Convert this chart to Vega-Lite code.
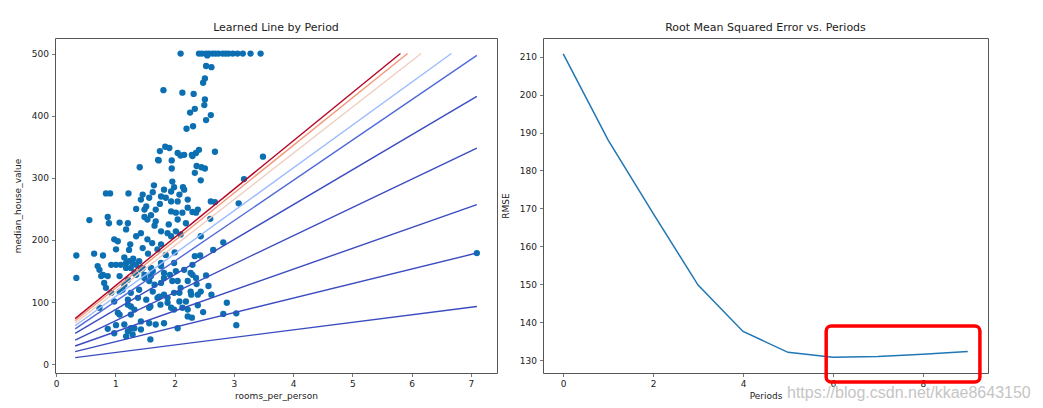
{
  "$schema": "https://vega.github.io/schema/vega-lite/v6.json",
  "padding": {"left": 12, "top": 21, "right": 0, "bottom": 0},
  "spacing": 2,
  "background": "white",
  "config": {
    "view": {"stroke": "#555", "strokeWidth": 1},
    "font": "DejaVu Sans",
    "title": {"font": "DejaVu Sans", "fontSize": 11, "fontWeight": "normal", "color": "#222", "offset": 5},
    "axis": {"grid": false, "domain": false, "tickColor": "#555", "tickSize": 3.5, "tickWidth": 0.8, "labelFont": "DejaVu Sans", "labelFontSize": 9, "labelColor": "#222", "titleFont": "DejaVu Sans", "titleFontSize": 9, "titleFontWeight": "normal", "titleColor": "#222", "labelPadding": 3},
    "axisX": {"titlePadding": 3},
    "axisY": {"titlePadding": 9}
  },
  "datasets": {
    "pts": [
      {"r":2.10,"v":500},{"r":2.41,"v":500},{"r":2.46,"v":500},{"r":2.53,"v":500},{"r":2.58,"v":500},{"r":2.64,"v":500},{"r":2.69,"v":500},{"r":2.74,"v":500},{"r":2.81,"v":500},{"r":2.86,"v":500},{"r":2.91,"v":500},{"r":2.98,"v":500},{"r":3.06,"v":500},{"r":3.15,"v":500},{"r":3.28,"v":500},{"r":3.45,"v":500},{"r":2.55,"v":497},
      {"r":1.81,"v":441},{"r":2.13,"v":437},{"r":2.32,"v":435},{"r":2.53,"v":480},{"r":2.62,"v":478},{"r":2.51,"v":460},{"r":2.48,"v":453},{"r":2.51,"v":426},{"r":2.50,"v":417},{"r":2.34,"v":411},{"r":2.26,"v":405},{"r":2.61,"v":401},{"r":2.53,"v":393},{"r":2.20,"v":379},{"r":2.31,"v":383},{"r":2.41,"v":345},{"r":2.36,"v":340},{"r":2.30,"v":335},{"r":2.68,"v":342},{"r":2.37,"v":319},{"r":2.51,"v":315},{"r":2.44,"v":296},{"r":3.49,"v":334},{"r":3.17,"v":298},{"r":1.84,"v":350},{"r":1.91,"v":348},{"r":1.75,"v":343},{"r":2.05,"v":340},{"r":2.10,"v":336},{"r":2.16,"v":337},{"r":2.29,"v":337},{"r":1.73,"v":328},{"r":1.95,"v":328},{"r":1.95,"v":315},{"r":1.41,"v":317},{"r":1.65,"v":288},{"r":1.82,"v":281},{"r":1.96,"v":294},{"r":1.99,"v":285},{"r":2.14,"v":285},{"r":1.72,"v":329},{"r":2.45,"v":317},{"r":2.34,"v":308},
      {"r":0.84,"v":275},{"r":0.91,"v":275},{"r":1.22,"v":275},{"r":1.46,"v":273},{"r":1.63,"v":277},{"r":1.94,"v":278},{"r":2.08,"v":273},{"r":2.16,"v":281},{"r":1.43,"v":265},{"r":1.57,"v":268},{"r":1.77,"v":270},{"r":1.94,"v":262},{"r":2.22,"v":265},{"r":1.52,"v":254},{"r":1.49,"v":249},{"r":1.68,"v":249},{"r":1.94,"v":246},{"r":2.02,"v":244},{"r":2.13,"v":244},{"r":2.22,"v":252},{"r":2.30,"v":245},{"r":0.56,"v":232},{"r":0.87,"v":237},{"r":0.89,"v":227},{"r":1.07,"v":228},{"r":1.21,"v":227},{"r":1.49,"v":237},{"r":1.54,"v":233},{"r":1.68,"v":230},{"r":1.66,"v":223},{"r":2.05,"v":233},{"r":2.19,"v":227},{"r":1.18,"v":217},{"r":1.43,"v":211},{"r":1.35,"v":206},{"r":1.77,"v":214},{"r":1.88,"v":211},{"r":2.02,"v":214},{"r":2.10,"v":209},{"r":0.98,"v":201},{"r":1.04,"v":198},{"r":1.54,"v":201},{"r":1.94,"v":206},{"r":1.77,"v":193},{"r":1.01,"v":185},{"r":1.23,"v":184},{"r":1.46,"v":187},{"r":1.71,"v":185},{"r":0.34,"v":175},{"r":0.64,"v":178},{"r":0.79,"v":175},
      {"r":0.93,"v":160},{"r":1.01,"v":160},{"r":1.09,"v":160},{"r":1.18,"v":163},{"r":1.23,"v":166},{"r":1.29,"v":163},{"r":1.35,"v":160},{"r":1.40,"v":166},{"r":0.70,"v":158},{"r":0.73,"v":152},{"r":1.18,"v":155},{"r":1.26,"v":155},{"r":1.46,"v":155},{"r":1.60,"v":155},{"r":1.77,"v":163},{"r":1.99,"v":163},{"r":0.79,"v":144},{"r":0.87,"v":142},{"r":1.07,"v":142},{"r":1.35,"v":144},{"r":1.49,"v":144},{"r":1.60,"v":142},{"r":1.82,"v":147},{"r":2.02,"v":150},{"r":2.16,"v":152},{"r":2.27,"v":147},{"r":0.34,"v":139},{"r":0.81,"v":131},{"r":1.15,"v":128},{"r":1.57,"v":134},{"r":1.77,"v":131},{"r":1.96,"v":134},{"r":2.22,"v":134},{"r":0.93,"v":115},{"r":1.07,"v":117},{"r":1.26,"v":115},{"r":1.40,"v":120},{"r":1.63,"v":117},{"r":2.08,"v":115},{"r":2.27,"v":117},{"r":1.21,"v":104},{"r":1.52,"v":104},{"r":1.74,"v":109},{"r":1.88,"v":107},{"r":2.08,"v":101},{"r":0.73,"v":91},{"r":0.98,"v":101},{"r":1.04,"v":83},{"r":1.26,"v":93},{"r":1.26,"v":80},{"r":1.57,"v":91},{"r":1.99,"v":88},{"r":2.22,"v":77},{"r":1.43,"v":69},{"r":1.57,"v":66},{"r":1.68,"v":64},{"r":1.82,"v":66},{"r":0.87,"v":57},{"r":0.98,"v":50},{"r":1.26,"v":58},{"r":1.29,"v":48},{"r":2.05,"v":58},{"r":1.59,"v":40},{"r":1.15,"v":64},
      {"r":2.61,"v":262},{"r":2.68,"v":261},{"r":3.08,"v":259},{"r":2.39,"v":249},{"r":2.36,"v":244},{"r":2.44,"v":206},{"r":2.82,"v":196},{"r":2.65,"v":184},{"r":2.34,"v":174},{"r":2.43,"v":175},{"r":2.30,"v":160},{"r":2.30,"v":144},{"r":2.53,"v":143},{"r":2.37,"v":129},{"r":2.57,"v":126},{"r":2.62,"v":112},{"r":2.28,"v":112},{"r":2.39,"v":95},{"r":2.88,"v":99},{"r":2.48,"v":84},{"r":2.82,"v":81},{"r":3.04,"v":82},{"r":3.04,"v":63},{"r":2.29,"v":75},{"r":2.60,"v":234},
      {"r":1.18,"v":45},{"r":1.21,"v":96},{"r":1.32,"v":88},{"r":1.07,"v":80},{"r":1.01,"v":63},{"r":1.32,"v":58},{"r":1.21,"v":53},{"r":1.43,"v":56},{"r":1.59,"v":93},{"r":1.76,"v":96},{"r":1.82,"v":112},{"r":1.88,"v":99},{"r":1.99,"v":115},{"r":2.10,"v":123},{"r":2.19,"v":101},{"r":2.22,"v":88},{"r":2.13,"v":91},{"r":1.94,"v":91},{"r":1.71,"v":107},{"r":1.66,"v":128},{"r":1.82,"v":139},{"r":1.92,"v":144},{"r":2.05,"v":134},{"r":2.39,"v":112},{"r":2.44,"v":117},{"r":2.36,"v":139},{"r":1.38,"v":107},{"r":0.76,"v":142},{"r":0.84,"v":123},{"r":1.21,"v":136},{"r":1.12,"v":120},{"r":1.49,"v":139},{"r":1.32,"v":147},{"r":1.43,"v":152},{"r":1.63,"v":150},{"r":1.77,"v":158},
      {"r":1.30,"v":170},{"r":1.15,"v":172},{"r":1.55,"v":178},{"r":1.85,"v":176},{"r":2.00,"v":180},{"r":1.62,"v":195},{"r":1.25,"v":193},{"r":1.90,"v":225},{"r":1.60,"v":240},{"r":1.35,"v":250},{"r":1.75,"v":258},{"r":2.05,"v":262},{"r":1.85,"v":268},
      {"r":7.10,"v":179}
    ],
    "lines": [
      {"period":0,"r":0.32,"v":10.8},{"period":0,"r":7.10,"v":93},
      {"period":1,"r":0.32,"v":20.4},{"period":1,"r":7.10,"v":179},
      {"period":2,"r":0.32,"v":29.4},{"period":2,"r":7.10,"v":257},
      {"period":3,"r":0.32,"v":39},{"period":3,"r":7.10,"v":348},
      {"period":4,"r":0.32,"v":49.8},{"period":4,"r":7.10,"v":431},
      {"period":5,"r":0.32,"v":57},{"period":5,"r":7.10,"v":497},
      {"period":6,"r":0.32,"v":62},{"period":6,"r":6.67,"v":500},
      {"period":7,"r":0.32,"v":66},{"period":7,"r":6.16,"v":500},
      {"period":8,"r":0.32,"v":70},{"period":8,"r":5.93,"v":500},
      {"period":9,"r":0.32,"v":73.5},{"period":9,"r":5.81,"v":500}
    ],
    "rmse": [
      {"period":0,"rmse":210.7},{"period":1,"rmse":188.0},{"period":2,"rmse":168.7},{"period":3,"rmse":149.8},{"period":4,"rmse":137.6},{"period":5,"rmse":132.1},{"period":6,"rmse":130.8},{"period":7,"rmse":131.0},{"period":8,"rmse":131.6},{"period":9,"rmse":132.3}
    ],
    "box": [{"period":5.85,"p2":9.27,"rmse":139.0,"r2":124.3}],
    "wm": [{"period":7.69,"rmse":121.4,"t":"https://blog.csdn.net/kkae8643150"}]
  },
  "hconcat": [
    {
      "width": 442, "height": 335,
      "title": "Learned Line by Period",
      "layer": [
        {
          "data": {"name": "pts"},
          "mark": {"type": "circle", "size": 40, "color": "#0b6fb2", "opacity": 1},
          "encoding": {
            "x": {"field": "r", "type": "quantitative", "scale": {"domain": [-0.02, 7.44], "nice": false, "zero": false}, "axis": {"values": [0,1,2,3,4,5,6,7], "title": "rooms_per_person"}},
            "y": {"field": "v", "type": "quantitative", "scale": {"domain": [-14, 525], "nice": false, "zero": false}, "axis": {"values": [0,100,200,300,400,500], "title": "median_house_value"}}
          }
        },
        {
          "data": {"name": "lines"},
          "mark": {"type": "line", "strokeWidth": 1.4},
          "encoding": {
            "x": {"field": "r", "type": "quantitative", "axis": {"values": [0,1,2,3,4,5,6,7], "title": "rooms_per_person"}},
            "y": {"field": "v", "type": "quantitative", "axis": {"values": [0,100,200,300,400,500], "title": "median_house_value"}},
            "color": {"field": "period", "type": "ordinal", "legend": null,
              "scale": {"domain": [0,1,2,3,4,5,6,7,8,9], "range": ["#3b4cc0","#3b4cc0","#3b4cc0","#3b4cc0","#3b4cc0","#4f69d9","#9abbff","#eecfbf","#f4987a","#b40426"]}}
          }
        }
      ]
    },
    {
      "width": 445, "height": 335,
      "title": "Root Mean Squared Error vs. Periods",
      "layer": [
        {
          "data": {"name": "rmse"},
          "mark": {"type": "line", "strokeWidth": 1.5, "color": "#1f77b4"},
          "encoding": {
            "x": {"field": "period", "type": "quantitative", "scale": {"domain": [-0.45, 9.45], "nice": false, "zero": false}, "axis": {"values": [0,2,4,6,8], "title": "Periods"}},
            "y": {"field": "rmse", "type": "quantitative", "scale": {"domain": [126.65, 214.9], "nice": false, "zero": false}, "axis": {"values": [130,140,150,160,170,180,190,200,210], "title": "RMSE"}}
          }
        },
        {
          "data": {"name": "box"},
          "mark": {"type": "rect", "filled": false, "stroke": "#ff0000", "strokeWidth": 3.5, "cornerRadius": 5},
          "encoding": {
            "x": {"field": "period", "type": "quantitative", "axis": {"values": [0,2,4,6,8], "title": "Periods"}},
            "x2": {"field": "p2"},
            "y": {"field": "rmse", "type": "quantitative", "axis": {"values": [130,140,150,160,170,180,190,200,210], "title": "RMSE"}},
            "y2": {"field": "r2"}
          }
        },
        {
          "data": {"name": "wm"},
          "mark": {"type": "text", "font": "Liberation Sans", "fontSize": 16, "color": "#bbbbbb", "opacity": 0.85, "align": "center", "baseline": "middle"},
          "encoding": {
            "x": {"field": "period", "type": "quantitative", "axis": {"values": [0,2,4,6,8], "title": "Periods"}},
            "y": {"field": "rmse", "type": "quantitative", "axis": {"values": [130,140,150,160,170,180,190,200,210], "title": "RMSE"}},
            "text": {"field": "t"}
          }
        }
      ]
    }
  ]
}
